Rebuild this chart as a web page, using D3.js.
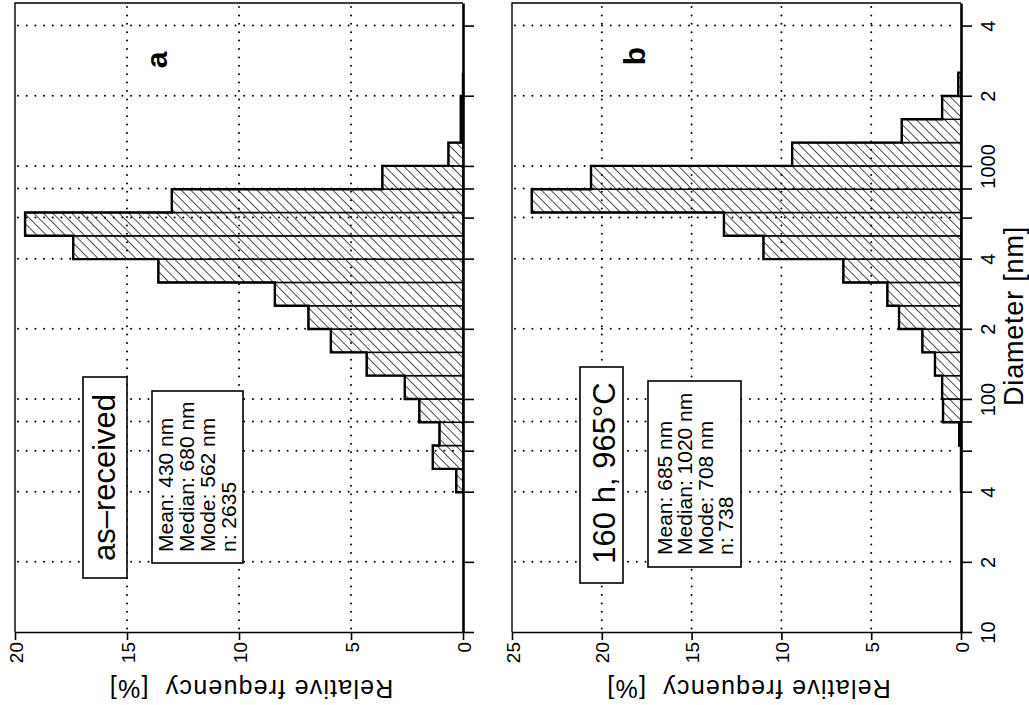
<!DOCTYPE html>
<html>
<head>
<meta charset="utf-8">
<script src="https://cdn.jsdelivr.net/npm/d3@7"></script>
<style>
  body { margin: 0; background: #fff; }
  svg { display: block; font-family: "Liberation Sans", Arial, sans-serif; }
</style>
</head>
<body>
<div id="chart"></div>
<script>
// bin edges of the diameter histogram (nm), 0.1 decade wide
var binEdges = [39.8, 50.1, 63.1, 79.4, 100, 125.9, 158.5, 199.5, 251.2, 316.2,
                398.1, 501.2, 631, 794.3, 1000, 1258.9, 1584.9, 1995.3, 2511.9];

// relative frequency [%] per bin
var freqA = [0.3, 1.35, 1.05, 1.95, 2.6, 4.3, 5.9, 6.9, 8.4, 13.6,
             17.4, 19.55, 13.0, 3.6, 0.65, 0.1, 0.1, 0];
var freqB = [0, 0, 0.1, 1.0, 1.05, 1.45, 2.15, 3.45, 4.1, 6.55,
             11.0, 13.2, 23.9, 20.6, 9.4, 3.3, 1.05, 0.15];

var diamTicks = [10, 20, 40, 60, 80, 100, 200, 400, 600, 800, 1000, 2000, 4000];
var diamGrid = [20, 40, 60, 80, 100, 200, 400, 600, 800, 1000, 2000, 4000];
var diamLabelValues = [10, 20, 40, 100, 200, 400, 1000, 2000, 4000];
var diamLabelText = ["10", "2", "4", "100", "2", "4", "1000", "2", "4"];

var freqTicksA = [0, 5, 10, 15, 20];
var freqTicksB = [0, 5, 10, 15, 20, 25];

var statsA = ["Mean: 430 nm", "Median: 680 nm", "Mode: 562 nm", "n: 2635"];
var statsB = ["Mean: 685 nm", "Median: 1020 nm", "Mode: 708 nm", "n: 738"];

var width = 1029, height = 705;
var plotTop = 3, plotBottom = 632;

var svg = d3.select("#chart").append("svg")
    .attr("width", width)
    .attr("height", height);

// hatch for the bars
svg.append("defs").append("pattern")
    .attr("id", "hatch")
    .attr("patternUnits", "userSpaceOnUse")
    .attr("width", 6.7)
    .attr("height", 6.7)
    .attr("patternTransform", "rotate(-45)")
  .call(function(p) {
    p.append("rect").attr("width", 6.7).attr("height", 6.7).attr("fill", "#fff");
    p.append("line").attr("x1", 0).attr("y1", 0).attr("x2", 0).attr("y2", 6.7)
        .attr("stroke", "#000").attr("stroke-width", 1.4);
  });

// log diameter scale runs bottom to top
var y = d3.scaleLog().domain([10, 5000]).range([plotBottom, plotTop]);

var panels = [
    { name: "a", freq: freqA, max: 20, ticks: freqTicksA, left: 15, right: 463,
      cond: "as\u2013received", condBox: [83, 377, 44, 201], condText: [115, 477.5],
      stats: statsA, statsBox: [152, 391, 91, 172], statsX: [173, 194, 215, 236], statsY: 552,
      letter: [167, 60], labels: false },
    { name: "b", freq: freqB, max: 25, ticks: freqTicksB, left: 512, right: 961,
      cond: "160 h, 965\u00b0C", condBox: [580, 367, 43, 216], condText: [615, 473],
      stats: statsB, statsBox: [648, 381, 93, 186], statsX: [672, 692, 713, 733], statsY: 555,
      letter: [645, 56], labels: true }
];

panels.forEach(function(p) {
    var x = d3.scaleLinear().domain([0, p.max]).range([p.right, p.left]);
    var g = svg.append("g");

    // frame: left and top
    g.append("path")
        .attr("d", "M" + p.right + "," + plotTop + "H" + p.left + "V" + plotBottom)
        .attr("fill", "none").attr("stroke", "#000").attr("stroke-width", 1.4);

    // bars
    var bins = p.freq.map(function(f, i) {
        return { lo: binEdges[i], hi: binEdges[i + 1], f: f };
    }).filter(function(d) { return d.f > 0; });

    g.selectAll(".bar").data(bins).enter().append("rect")
        .attr("class", "bar")
        .attr("x", function(d) { return x(d.f); })
        .attr("y", function(d) { return y(d.hi); })
        .attr("width", function(d) { return x(0) - x(d.f); })
        .attr("height", function(d) { return y(d.lo) - y(d.hi); })
        .attr("fill", "url(#hatch)")
        .attr("stroke", "#000")
        .attr("stroke-width", 1.5);

    // stepped outline
    var pts = [[x(0), y(binEdges[0])]];
    p.freq.forEach(function(f, i) {
        pts.push([x(f), y(binEdges[i])]);
        pts.push([x(f), y(binEdges[i + 1])]);
    });
    pts.push([x(0), y(binEdges[binEdges.length - 1])]);
    g.append("path")
        .attr("d", d3.line()(pts))
        .attr("fill", "none").attr("stroke", "#000").attr("stroke-width", 2.4);

    // dotted grid on top of the bars
    g.selectAll(".hgrid").data(diamGrid).enter().append("line")
        .attr("x1", p.left + 3).attr("x2", p.right - 4)
        .attr("y1", function(d) { return y(d); })
        .attr("y2", function(d) { return y(d); })
        .attr("stroke", "#000").attr("stroke-width", 2)
        .attr("stroke-linecap", "round").attr("stroke-dasharray", "0,8.7");

    g.selectAll(".vgrid").data(p.ticks.slice(1, -1)).enter().append("line")
        .attr("y1", plotTop + 4).attr("y2", plotBottom - 2)
        .attr("x1", function(d) { return x(d); })
        .attr("x2", function(d) { return x(d); })
        .attr("stroke", "#000").attr("stroke-width", 2)
        .attr("stroke-linecap", "round").attr("stroke-dasharray", "0,8.4");

    // frequency axis
    var xAxis = d3.axisBottom(x).tickValues(p.ticks).tickSize(8).tickSizeOuter(0);
    var xg = g.append("g")
        .attr("transform", "translate(0," + plotBottom + ")")
        .call(xAxis);
    xg.select(".domain").attr("stroke-width", 1.6);
    xg.selectAll(".tick line").attr("stroke-width", 1.6);
    xg.selectAll("text")
        .attr("x", 0).attr("y", 0).attr("dy", null)
        .attr("transform", "translate(7,10) rotate(-90)")
        .attr("text-anchor", "end")
        .attr("font-size", 19)
        .attr("font-family", null)
        .attr("fill", "#000");

    g.append("text")
        .attr("transform", "translate(" + ((p.left + p.right) / 2 + 12) + ",680) rotate(180)")
        .attr("text-anchor", "middle")
        .attr("font-size", 25)
        .attr("letter-spacing", 1.2)
        .text("Relative frequency\u00a0\u00a0[%]");

    // diameter axis on the right edge
    var yAxis = d3.axisRight(y).tickValues(diamTicks).tickSize(11).tickSizeOuter(0)
        .tickFormat(function(d) {
            var i = diamLabelValues.indexOf(d);
            return (p.labels && i >= 0) ? diamLabelText[i] : "";
        });
    var yg = g.append("g")
        .attr("transform", "translate(" + p.right + ",0)")
        .call(yAxis);
    yg.select(".domain").attr("stroke-width", 2.6);
    yg.selectAll(".tick line").attr("stroke-width", 1.6);
    yg.selectAll("text")
        .attr("x", 0).attr("y", 0).attr("dy", 0)
        .attr("transform", "translate(34,0) rotate(-90)")
        .attr("text-anchor", "middle")
        .attr("font-size", 20)
        .attr("font-family", null)
        .attr("fill", "#000");

    // panel letter
    g.append("text")
        .attr("transform", "translate(" + p.letter[0] + "," + p.letter[1] + ") rotate(-90)")
        .attr("text-anchor", "middle")
        .attr("font-size", 30)
        .attr("font-weight", "bold")
        .text(p.name);

    // condition label
    g.append("rect")
        .attr("x", p.condBox[0]).attr("y", p.condBox[1])
        .attr("width", p.condBox[2]).attr("height", p.condBox[3])
        .attr("fill", "#fff").attr("stroke", "#000").attr("stroke-width", 1.6);
    g.append("text")
        .attr("transform", "translate(" + p.condText[0] + "," + p.condText[1] + ") rotate(-90)")
        .attr("text-anchor", "middle")
        .attr("font-size", 31)
        .text(p.cond);

    // statistics box
    g.append("rect")
        .attr("x", p.statsBox[0]).attr("y", p.statsBox[1])
        .attr("width", p.statsBox[2]).attr("height", p.statsBox[3])
        .attr("fill", "#fff").attr("stroke", "#000").attr("stroke-width", 1.6);
    g.selectAll(".stat").data(p.stats).enter().append("text")
        .attr("transform", function(d, i) {
            return "translate(" + p.statsX[i] + "," + p.statsY + ") rotate(-90)";
        })
        .attr("font-size", 21)
        .text(function(d) { return d; });
});

svg.append("text")
    .attr("transform", "translate(1023,316) rotate(-90)")
    .attr("text-anchor", "middle")
    .attr("font-size", 27)
    .attr("letter-spacing", 0.8)
    .text("Diameter [nm]");
</script>
</body>
</html>
